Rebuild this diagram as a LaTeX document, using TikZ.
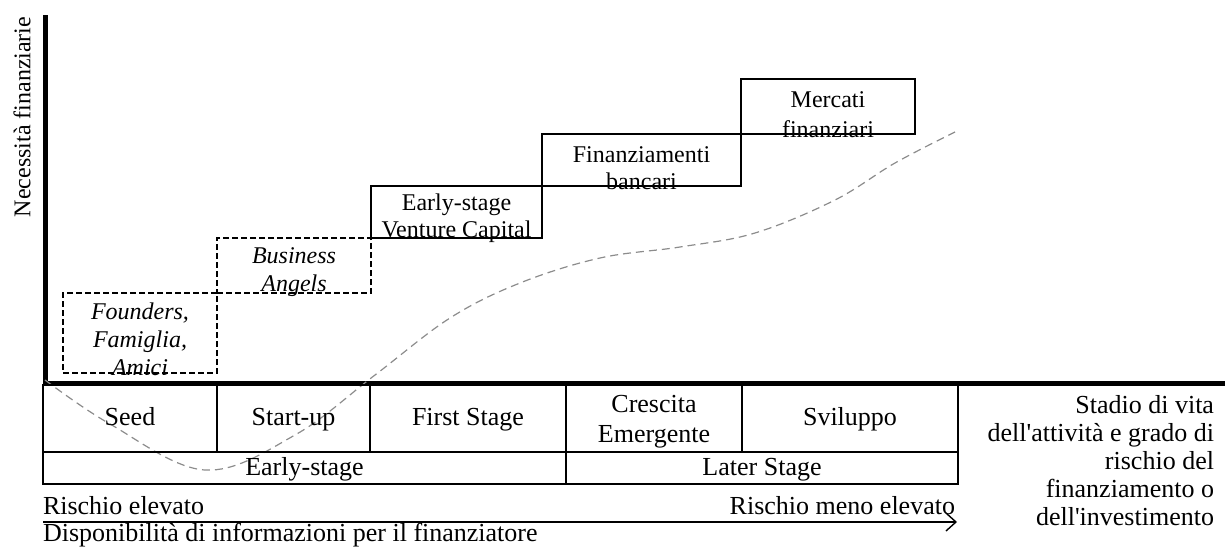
\documentclass[tikz,border=0pt]{standalone}
\usepackage{fontspec}
\setmainfont{Liberation Serif}
\usetikzlibrary{arrows.meta, positioning}

\begin{document}
\begin{tikzpicture}[
    x=0.5pt, y=-0.5pt,
    every node/.style={font=\fontsize{13}{14}\selectfont, inner sep=0pt, outer sep=0pt, align=center},
    stepbox/.style={draw, line width=0.9pt},
    informal/.style={stepbox, dash pattern=on 3pt off 1.5pt},
    steptext/.style={font=\fontsize{12}{13.5}\selectfont},
    informaltext/.style={font=\fontsize{12}{14}\selectfont\itshape},
    cell/.style={draw, line width=0.8pt, anchor=north west, minimum height=33.5pt},
    lowcell/.style={cell, minimum height=16pt},
    oneline/.style={text height=10pt, text depth=3pt},
    axis/.style={line width=2.5pt},
    trend/.style={black!45, dash pattern=on 4pt off 2.5pt, line width=0.6pt},
    ]
\useasboundingbox (0,0) rectangle (1225,546);

% Assi
\draw[axis] (45,15) -- (45,383) -- (1225,383);
\node[rotate=90, font=\fontsize{12}{13.5}\selectfont] (needs) at (22,117) {Necessità finanziarie};

% Gradini dei finanziatori
\node[informal, anchor=south west, minimum width=77pt, minimum height=40pt] (founders) at (63,373) {};
\node[informal, above right=0pt and 0pt of founders, minimum width=77pt, minimum height=27.5pt] (angels) {};
\node[stepbox, above right=0pt and 0pt of angels, minimum width=85.5pt, minimum height=26pt] (venture) {};
\node[stepbox, above right=0pt and 0pt of venture, minimum width=99.5pt, minimum height=26pt] (banks) {};
\node[stepbox, above right=0pt and 0pt of banks, minimum width=87pt, minimum height=27.5pt] (markets) {};

\node[informaltext] (founderstext) at ([yshift=-3pt]founders.center) {Founders,\\Famiglia,\\Amici};
\node[informaltext] (angelstext) at ([yshift=-3.5pt]angels.center) {Business\\Angels};
\node[steptext] (venturetext) at ([yshift=-3pt]venture.center) {Early-stage\\Venture Capital};
\node[steptext] (bankstext) at ([yshift=-4pt]banks.center) {Finanziamenti\\bancari};
\node[steptext, font=\fontsize{12}{15}\selectfont] (marketstext) at ([yshift=-4pt]markets.center) {Mercati\\finanziari};

% Curva
\draw[trend] plot[smooth, tension=0.6] coordinates {(45,380) (110,424) (205,470) (295,435) (375,375) (450,318) (520,283) (600,258) (680,247) (755,233) (835,200) (895,163) (955,132)};

% Tabella degli stadi
\node[cell, oneline, minimum width=87pt] (seed) at (43,385) {Seed};
\node[cell, oneline, right=0pt of seed, minimum width=76.5pt] (startup) {Start-up};
\node[cell, oneline, right=0pt of startup, minimum width=98pt] (first) {First Stage};
\node[cell, right=0pt of first, minimum width=88pt] (growth) {};
\node[font=\fontsize{13}{15}\selectfont] (growthtext) at ([yshift=-1.5pt]growth.center) {Crescita\\Emergente};
\node[cell, oneline, right=0pt of growth, minimum width=108pt] (develop) {Sviluppo};
\node[lowcell, oneline, minimum width=261.5pt] (early) at (seed.south west) {Early-stage};
\node[lowcell, oneline, minimum width=196pt] (later) at (growth.south west) {Later Stage};

% Rischio e informazioni
\node[anchor=west] (highrisk) at (43,506) {Rischio elevato};
\node[anchor=east] (lowrisk) at (955,506) {Rischio meno elevato};
\coordinate (infostart) at (43,522);
\coordinate (infoend) at (957,522);
\draw[-{Straight Barb[length=5pt, width=9pt]}, line width=0.7pt] (infostart) -- (infoend);
\node[anchor=west] (info) at (43,535) {Disponibilità di informazioni per il finanziatore};

\node[anchor=east, align=right] (stage) at (1214,461) {Stadio di vita\\dell\textquotesingle attività e grado di\\rischio del\\finanziamento o\\dell\textquotesingle investimento};

\end{tikzpicture}
\end{document}
